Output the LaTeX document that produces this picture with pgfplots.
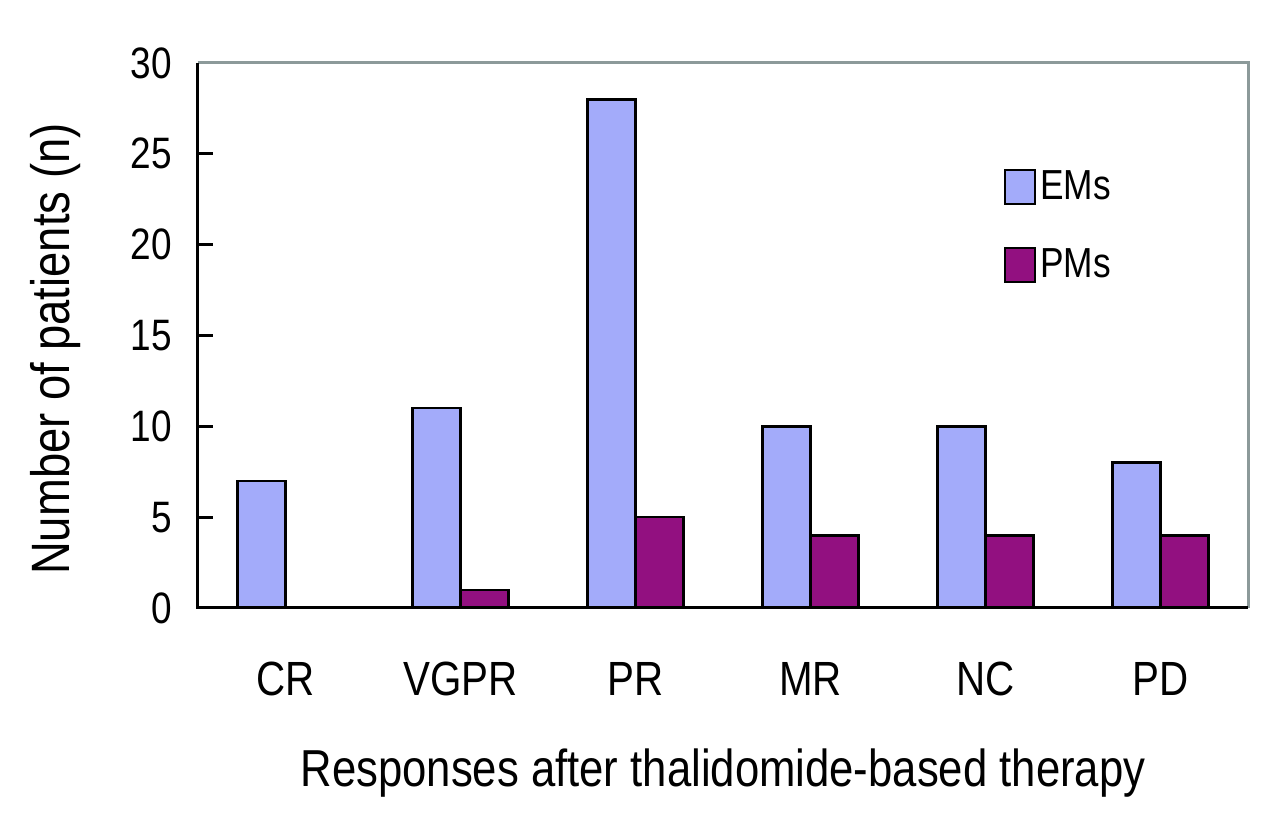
\documentclass[border=0pt]{standalone}
\usepackage{pgfplots}
\pgfplotsset{compat=1.18}
\usepackage{fontspec}
\setmainfont{Liberation Sans}[FakeStretch=0.84]
\definecolor{emcol}{HTML}{A3ABFA}
\definecolor{pmcol}{HTML}{921080}
\definecolor{framegray}{HTML}{8C9A9A}

\begin{document}
\begin{tikzpicture}
  \begin{axis}[
      scale only axis,
      width=525pt,
      height=272.5pt,
      ybar=0pt,
      bar width=24pt,
      xmin=-0.5, xmax=5.5,
      ymin=0, ymax=30,
      ytick={0,5,...,30},
      ytick pos=left,
      xtick={0,...,5},
      xticklabels={CR,VGPR,PR,MR,NC,PD},
      extra x ticks={0.5,1.5,2.5,3.5,4.5},
      extra x tick labels={},
      extra x tick style={major tick length=7.5pt, tick style={black, line width=1.5pt}},
      major tick length=7.5pt,
      x tick style={draw=none},
      y tick style={black, line width=1.5pt},
      tick align=inside,
      axis line style={draw=none},
      /pgf/number format/assume math mode=true,
      yticklabel style={font=\fontsize{22}{24}\selectfont, xshift=-9.5pt},
      xticklabel style={font=\fontsize{24}{26}\selectfont, yshift=-23.5pt},
      xlabel={Responses after thalidomide-based therapy},
      ylabel={Number of patients (n)},
      xlabel style={font=\fontsize{26}{28}\selectfont, at={(axis description cs:0.5,0)}, anchor=north, yshift=-67pt},
      ylabel style={font=\fontsize{27}{29}\selectfont, at={(axis description cs:-0.136,0.475)}, anchor=center, rotate=0},
      legend style={
        at={(axis description cs:0.767,0.81)},
        anchor=north west,
        draw=none, fill=none,
        font=\fontsize{21}{23}\selectfont,
        row sep=19pt,
        inner sep=0pt,
      },
      legend cell align=left,
      legend image code/.code={\draw[#1] (0pt,-8.5pt) rectangle (15pt,8.5pt);},
      clip=false,
    ]
    \addplot[fill=emcol, draw=black, line width=1.2pt]
      coordinates {(0,7) (1,11) (2,28) (3,10) (4,10) (5,8)};
    \addlegendentry{EMs}
    \addplot[fill=pmcol, draw=black, line width=1.2pt]
      coordinates {(0,0) (1,1) (2,5) (3,4) (4,4) (5,4)};
    \addlegendentry{PMs}

    \draw[framegray, line width=1.5pt] (rel axis cs:0,1) -- (rel axis cs:1,1) -- (rel axis cs:1,0);
    \draw[black, line width=1.5pt] (rel axis cs:0,1) -- (rel axis cs:0,0) -- (rel axis cs:1,0);
  \end{axis}
  \useasboundingbox (-99pt,-112.5pt) rectangle (541pt,304pt);
\end{tikzpicture}
\end{document}
